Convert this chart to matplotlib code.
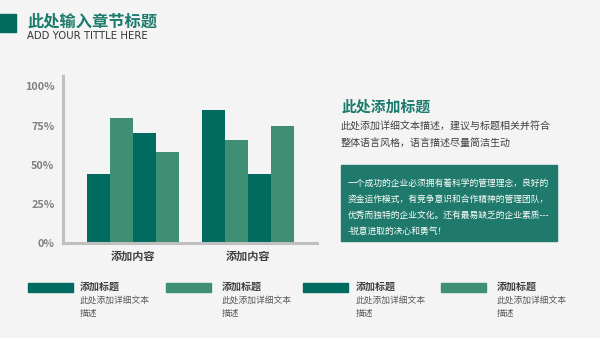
import matplotlib.pyplot as plt
import numpy as np

plt.rcParams['font.family'] = ['Noto Sans CJK SC', 'DejaVu Sans']

# data
categories = ["添加内容", "添加内容"]
series_1 = [0.44, 0.85]
series_2 = [0.80, 0.66]
series_3 = [0.70, 0.44]
series_4 = [0.58, 0.75]
y_ticks = [0, 0.25, 0.5, 0.75, 1.0]
y_tick_labels = ["0%", "25%", "50%", "75%", "100%"]

legend_titles = ["添加标题", "添加标题", "添加标题", "添加标题"]
legend_desc = "此处添加详细文本\n描述"

page_title = "此处输入章节标题"
page_subtitle = "ADD YOUR TITTLE HERE"
side_title = "此处添加标题"
side_body = "此处添加详细文本描述，建议与标题相关并符合\n整体语言风格，语言描述尽量简洁生动"
box_lines = [
    "一个成功的企业必须拥有着科学的管理理念，良好的",
    "资金运作模式，有竞争意识和合作精神的管理团队，",
    "优秀而独特的企业文化。还有最易缺乏的企业素质---",
    "-锐意进取的决心和勇气！",
]

DARK = "#006B5E"
MID = "#3E8F74"
BG = "#F4F4F4"
TEAL_TXT = "#1B7B6D"

W, H = 600, 338
fig = plt.figure(figsize=(6, 3.38), dpi=100)
fig.patch.set_facecolor(BG)


def fx(x):
    return x / W


def fy(y):
    return 1 - y / H


# header
fig.patches.append(plt.Rectangle((fx(0), fy(32)), fx(16), 18 / H,
                                 transform=fig.transFigure, color=DARK))
fig.text(fx(27), fy(22), page_title, fontsize=11.7, fontweight="bold",
         color=TEAL_TXT, va="center", ha="left")
fig.text(fx(27), fy(36), page_subtitle, fontsize=7.3, color="#333333",
         va="center", ha="left", family="DejaVu Sans")

# chart
ax = fig.add_axes([fx(62.7), fy(243.3), fx(316.7 - 62.7), (243.3 - 76) / H])
ax.set_facecolor(BG)
x = np.arange(len(categories))
w = 0.2
for i, (vals, c) in enumerate(zip([series_1, series_2, series_3, series_4],
                                  [DARK, MID, DARK, MID])):
    ax.bar(x + (i - 1.5) * w, vals, width=w, color=c)
ax.set_xlim(-0.61, 254 / 115.3 - 0.61)
ax.set_ylim(0, (243.3 - 76) / 157)
ax.set_yticks(y_ticks)
ax.set_yticklabels(y_tick_labels, fontsize=7.8, color="#7F7F7F", fontweight="bold")
ax.set_xticks(x)
ax.set_xticklabels(categories, fontsize=8, color="#404040", fontweight="bold")
ax.tick_params(length=0, pad=6)
ax.tick_params(axis="x", pad=5)
for s in ["top", "right"]:
    ax.spines[s].set_visible(False)
for s in ["left", "bottom"]:
    ax.spines[s].set_color("#BFBFBF")
    ax.spines[s].set_linewidth(2.2)

# right side text
fig.text(fx(341), fy(107), side_title, fontsize=10.7, fontweight="bold",
         color=TEAL_TXT, va="center", ha="left")
fig.text(fx(341), fy(135), side_body, fontsize=7.2, color="#404040",
         va="center", ha="left", linespacing=1.75)
fig.patches.append(plt.Rectangle((fx(340.5), fy(241)), fx(556.5 - 340.5), 76 / H,
                                 transform=fig.transFigure, color="#1F7A6C"))
for j, line in enumerate(box_lines):
    fig.text(fx(348), fy(183.3 + j * 16.1), line, fontsize=6.3, color="white",
             va="center", ha="left")

# legend row
bar_x = [28.3, 166, 303.3, 441]
txt_x = [80, 222, 356, 497]
for j, (bx, tx) in enumerate(zip(bar_x, txt_x)):
    c = DARK if j % 2 == 0 else MID
    fig.patches.append(plt.Rectangle((fx(bx), fy(291.7)), fx(45), 8.4 / H,
                                     transform=fig.transFigure, color=c))
    fig.text(fx(tx), fy(286.5), legend_titles[j], fontsize=7.2, fontweight="bold",
             color="#404040", va="center", ha="left")
    fig.text(fx(tx), fy(307), legend_desc, fontsize=6.3, color="#595959",
             va="center", ha="left", linespacing=1.6)

fig.savefig("out.png", dpi=100, facecolor=BG)
